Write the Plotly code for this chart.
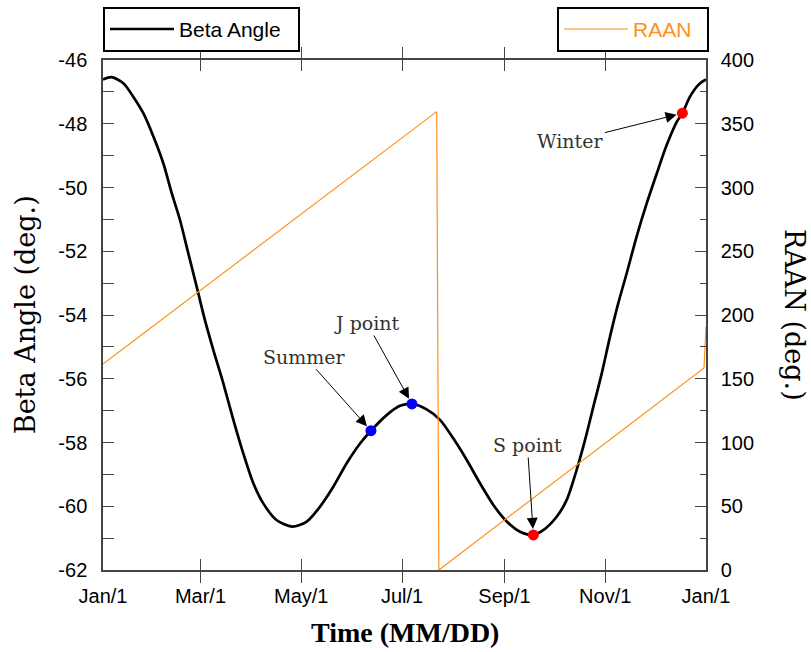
import plotly.graph_objects as go

# ---- data (day of year) ----
beta_days = [0, 5.3, 12.3, 18.3, 24.4, 30.5, 36.5, 41.6, 46.6, 51.6, 56.7, 61.7, 66.8,
             72.8, 78.9, 84.9, 91, 97, 105, 114.5, 123.3, 131.4, 139.4, 147.5, 155.6,
             162.2, 171.7, 179.8, 187, 195.9, 204, 212, 220.2, 228.2, 236.3, 244.4,
             252.4, 260.5, 266.5, 274.6, 280.7, 286.7, 291.8, 296.8, 301.9, 306.9,
             311.9, 317, 323, 329.1, 335.2, 341.2, 347.3, 350.7, 355.3, 360.4, 364.4, 365]
beta_vals = [-46.61, -46.54, -46.73, -47.15, -47.67, -48.40, -49.24, -50.18, -51.02,
             -52.06, -53.11, -54.16, -55.10, -56.14, -57.29, -58.34, -59.28, -59.91,
             -60.43, -60.64, -60.48, -60.01, -59.39, -58.65, -58.03, -57.63, -57.14,
             -56.85, -56.79, -56.96, -57.29, -57.87, -58.55, -59.28, -59.96, -60.48,
             -60.80, -60.90, -60.75, -60.33, -59.80, -58.86, -57.92, -56.88, -55.83,
             -54.68, -53.63, -52.69, -51.54, -50.50, -49.56, -48.67, -47.94, -47.67,
             -47.15, -46.78, -46.63, -46.62]

raan_days = [0, 202.0, 203.3, 363.8, 365]
raan_vals = [161.6, 359.5, 0.0, 158.5, 191.0]

point_names = ["Summer", "J point", "S point", "Winter"]
point_days = [162.2, 187.0, 260.5, 350.7]
point_vals = [-57.63, -56.79, -60.90, -47.67]
point_colors = ["#0000ff", "#0000ff", "#ff0000", "#ff0000"]
label_dx = [-66, -45, -6, -112]
label_dy = [-74, -81, -90, 28]

tick_days = [0, 59, 120, 181, 243, 304, 365]
tick_labels = ["Jan/1", "Mar/1", "May/1", "Jul/1", "Sep/1", "Nov/1", "Jan/1"]
beta_ticks = [-62, -60, -58, -56, -54, -52, -50, -48, -46]
beta_tick_labels = ["-62", "-60", "-58", "-56", "-54", "-52", "-50", "-48", "-46"]

ORANGE = "#ff9020"
AXC = "#444444"

fig = go.Figure()
fig.add_trace(go.Scatter(x=beta_days, y=beta_vals, mode="lines", name="Beta Angle",
                         line=dict(color="black", width=2.7, shape="spline", smoothing=0.8),
                         legend="legend"))
fig.add_trace(go.Scatter(x=raan_days, y=raan_vals, mode="lines", name="RAAN",
                         line=dict(color=ORANGE, width=1.2), yaxis="y2", legend="legend2"))
fig.add_trace(go.Scatter(x=point_days, y=point_vals, mode="markers", showlegend=False,
                         marker=dict(color=point_colors, size=11, line=dict(width=0))))

for name, d, v, dx, dy in zip(point_names, point_days, point_vals, label_dx, label_dy):
    fig.add_annotation(x=d, y=v, xref="x", yref="y", text=name, ax=dx, ay=dy,
                       showarrow=True, arrowhead=2, arrowsize=2.2, arrowwidth=1,
                       arrowcolor="black", standoff=6,
                       font=dict(family="DejaVu Serif", size=19, color="#333333"))

fig.add_annotation(x=-0.129, y=0.5, xref="paper", yref="paper", text="Beta Angle (deg.)",
                   textangle=-90, showarrow=False, xanchor="center", yanchor="middle",
                   font=dict(family="DejaVu Serif", size=27, color="black"))
fig.add_annotation(x=1.1476, y=0.5, xref="paper", yref="paper", text="RAAN (deg.)",
                   textangle=90, showarrow=False, xanchor="center", yanchor="middle",
                   font=dict(family="DejaVu Serif", size=27, color="black"))
fig.add_annotation(x=0.5, y=-0.1235, xref="paper", yref="paper", text="<b>Time (MM/DD)</b>",
                   showarrow=False, xanchor="center", yanchor="middle",
                   font=dict(family="Liberation Serif", size=28, color="black"))

fig.update_layout(
    width=811, height=652,
    margin=dict(l=103, r=105, t=60, b=82, autoexpand=False),
    plot_bgcolor="white", paper_bgcolor="white",
    font=dict(family="Liberation Sans", size=20, color="black"),
    xaxis=dict(range=[0, 365], tickvals=tick_days, ticktext=tick_labels,
               showline=True, linecolor=AXC, linewidth=1.5, mirror="allticks",
               ticks="inside", ticklen=11, tickwidth=1.3, tickcolor=AXC,
               showgrid=False, zeroline=False, ticklabelstandoff=7),
    yaxis=dict(range=[-62, -46], tickvals=beta_ticks, ticktext=beta_tick_labels,
               showline=True, linecolor=AXC, linewidth=1.5,
               ticks="inside", ticklen=11, tickwidth=1.3, tickcolor=AXC,
               minor=dict(dtick=1, ticks="inside", ticklen=11, tickwidth=1.3, tickcolor=AXC),
               showgrid=False, zeroline=False, ticklabelstandoff=10),
    yaxis2=dict(range=[0, 400], dtick=50, overlaying="y", side="right",
                showline=True, linecolor=AXC, linewidth=1.5,
                ticks="inside", ticklen=11, tickwidth=1.3, tickcolor=AXC,
                minor=dict(dtick=25, ticks="inside", ticklen=6, tickwidth=1.3, tickcolor=AXC),
                showgrid=False, zeroline=False, ticklabelstandoff=9),
    legend=dict(x=0, y=1.016, xanchor="left", yanchor="bottom", orientation="h",
                bordercolor="black", borderwidth=2, bgcolor="white",
                itemwidth=64, entrywidth=114, entrywidthmode="pixels",
                font=dict(size=21, color="black")),
    legend2=dict(x=1.005, y=1.016, xanchor="right", yanchor="bottom", orientation="h",
                 bordercolor="black", borderwidth=2, bgcolor="white",
                 itemwidth=64, entrywidth=69, entrywidthmode="pixels",
                 font=dict(size=21, color=ORANGE)),
)

fig.write_html("out.html", config={"displayModeBar": False},
               post_script="document.body.style.margin='0';")
